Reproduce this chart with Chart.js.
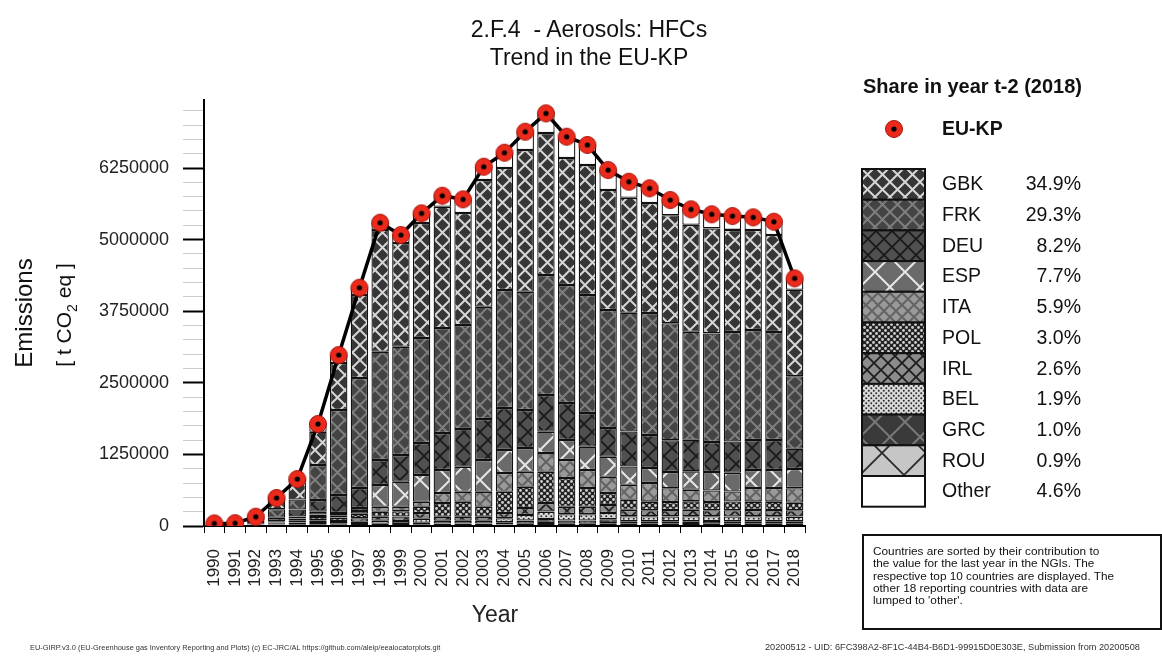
<!DOCTYPE html>
<html>
<head>
<meta charset="utf-8">
<script src="https://cdn.jsdelivr.net/npm/chart.js@4/dist/chart.umd.min.js"></script>
<style>
  body { margin: 0; background: #fff; font-family: "Liberation Sans", Arial, sans-serif; }
  #wrap { position: relative; width: 1162px; height: 660px; overflow: hidden; }
  #c { position: absolute; left: 0; top: 0; }
  .t { position: absolute; white-space: nowrap; color: #111; }
  .rot { transform: translate(-50%, -50%) rotate(-90deg); }
  #note { position: absolute; left: 862px; top: 534px; width: 287px; height: 83px; border: 2px solid #111;
          padding: 9px 0 0 9px; font-size: 11.8px; line-height: 12.3px; color: #111; }
</style>
</head>
<body>
<div id="wrap">
  <canvas id="c" width="1162" height="660"></canvas>
  <div class="t" style="left:389px;width:400px;top:16px;text-align:center;font-size:23px">2.F.4&nbsp; - Aerosols: HFCs</div>
  <div class="t" style="left:389px;width:400px;top:44px;text-align:center;font-size:23px">Trend in the EU-KP</div>
  <div class="t rot" style="left:24px;top:313px;font-size:24px">Emissions</div>
  <div class="t rot" style="left:66px;top:315px;font-size:21px">[ t CO<sub style="font-size:14px">2</sub> eq ]</div>
  <div class="t" style="left:395px;width:200px;top:601px;text-align:center;font-size:23px;color:#222">Year</div>
  <div class="t" style="left:863px;top:75px;font-size:20px;font-weight:bold">Share in year t-2 (2018)</div>
  <canvas id="mk" width="20" height="20" style="position:absolute;left:884px;top:119px"></canvas>
  <div class="t" style="left:942px;top:117px;font-size:19.5px;font-weight:bold">EU-KP</div>
  <canvas id="lg" width="68" height="344" style="position:absolute;left:860px;top:167px"></canvas>
  <div id="lgtext"></div>
  <div id="note">Countries are sorted by their contribution to<br>the value for the last year in the NGIs. The<br>respective top 10 countries are displayed. The<br>other 18 reporting countries with data are<br>lumped to 'other'.</div>
  <div class="t" style="left:30px;top:643px;font-size:7.4px;color:#333">EU-GIRP.v3.0 (EU-Greenhouse gas Inventory Reporting and Plots) (c) EC-JRC/AL https://github.com/aleip/eealocatorplots.git</div>
  <div class="t" style="left:765px;top:642px;font-size:9.2px;color:#333">20200512 - UID: 6FC398A2-8F1C-44B4-B6D1-99915D0E303E, Submission from 20200508</div>
</div>
<script>
// years and values (t CO2 eq)
var years = ['1990','1991','1992','1993','1994','1995','1996','1997','1998','1999','2000','2001','2002','2003','2004',
             '2005','2006','2007','2008','2009','2010','2011','2012','2013','2014','2015','2016','2017','2018'];

var GBK = [16000,18000,60000,180000,297000,581000,820000,1449000,2125000,1810000,2008000,2118000,1955000,2212000,2130000,
           2474000,2479000,2217000,2270000,2095000,2008000,1920000,1885000,1868000,1833000,1781000,1746000,1693000,1509000];
var FRK = [12000,14000,45000,150000,175000,611000,1484000,1920000,1891000,1891000,1833000,1833000,1816000,1961000,2060000,
           2065000,2095000,2060000,2060000,2060000,2072000,2130000,2043000,1885000,1898000,1915000,1920000,1885000,1267000];
var DEU = [6000,6000,20000,60000,122000,204000,314000,349000,436000,466000,559000,646000,658000,716000,733000,
           663000,641000,646000,588000,501000,611000,576000,553000,553000,524000,546000,524000,524000,355000];
var ESP = [2000,2000,6000,20000,35000,50000,40000,50000,379000,436000,466000,402000,436000,553000,402000,
           414000,372000,349000,407000,349000,320000,262000,285000,320000,320000,326000,314000,314000,333000];
var ITA = [2000,2000,5000,15000,30000,40000,40000,50000,87000,80000,87000,175000,175000,262000,326000,
           262000,326000,314000,314000,285000,262000,326000,239000,204000,204000,175000,239000,239000,255000];
var POL = [2000,2000,6000,20000,40000,60000,60000,80000,87000,90000,110000,239000,262000,175000,372000,
           372000,546000,501000,326000,209000,175000,148000,142000,146000,140000,150000,144000,147000,130000];
var IRL = [1000,1000,4000,12000,30000,45000,40000,60000,70000,80000,100000,70000,70000,70000,90000,
           120000,150000,130000,130000,140000,112000,108000,110000,114000,108000,110000,112000,109000,112000];
var BEL = [1000,1000,3000,8000,17000,30000,25000,40000,52000,50000,70000,50000,50000,50000,70000,
           100000,130000,110000,110000,110000,86000,84000,85000,88000,83000,85000,84000,86000,82000];
var GRC = [500,500,2000,4000,8000,14000,12000,20000,26000,22000,35000,25000,25000,25000,40000,
           55000,70000,57000,57000,70000,46000,45000,44000,45000,47000,44000,45000,44000,43000];
var ROU = [500,500,1000,3000,6000,10000,10000,14000,14000,15000,22000,17000,17000,17000,27000,
           39000,51000,40000,40000,47000,38000,40000,39000,37000,39000,38000,40000,39000,39000];
var Other = [2000,3000,10000,17000,60000,136000,140000,128000,127000,140000,169000,191000,239000,232000,267000,
             320000,345000,372000,350000,349000,284000,258000,262000,275000,239000,245000,222000,233000,199000];
var euKP = [45000,50000,162000,489000,820000,1781000,2985000,4160000,5295000,5080000,5459000,5766000,5703000,6273000,6517000,
            6884000,7205000,6796000,6652000,6215000,6011000,5896000,5691000,5529000,5442000,5412000,5389000,5312000,4324000];

// legend order (top to bottom) and shares in 2018
var legendNames = ['GBK','FRK','DEU','ESP','ITA','POL','IRL','BEL','GRC','ROU','Other'];
var shares = ['34.9%','29.3%','8.2%','7.7%','5.9%','3.0%','2.6%','1.9%','1.0%','0.9%','4.6%'];

var series = {GBK:GBK, FRK:FRK, DEU:DEU, ESP:ESP, ITA:ITA, POL:POL, IRL:IRL, BEL:BEL, GRC:GRC, ROU:ROU, Other:Other};

// fill styles: [background, line colour, tile size, line width, kind]
var fills = {
  GBK:  ['#363636', '#d6d6d6', 15, 2, 'x'],
  FRK:  ['#444444', '#7e7e7e', 15, 2, 'x'],
  DEU:  ['#505050', '#1a1a1a', 16, 1.8, 'x'],
  ESP:  ['#6a6a6a', '#e6e6e6', 30, 2, 'x'],
  ITA:  ['#9a9a9a', '#636363', 12, 2, 'x'],
  POL:  ['#222222', '#cfcfcf', 6, 1.4, 'dots'],
  IRL:  ['#8c8c8c', '#1e1e1e', 14, 1.8, 'x'],
  BEL:  ['#dadada', '#2a2a2a', 5, 1, 'dots'],
  GRC:  ['#3a3a3a', '#787878', 30, 2, 'x'],
  ROU:  ['#c6c6c6', '#2a2a2a', 44, 1.8, 'x'],
  Other: null
};

function tile(f) {
  var t = document.createElement('canvas');
  t.width = f[2]; t.height = f[2];
  var g = t.getContext('2d'), s = f[2];
  g.fillStyle = f[0]; g.fillRect(0, 0, s, s);
  g.strokeStyle = f[1]; g.fillStyle = f[1]; g.lineWidth = f[3];
  if (f[4] == 'dots') {
    [[s/4, s/4], [3*s/4, 3*s/4]].forEach(function(p) {
      g.beginPath(); g.arc(p[0], p[1], f[3], 0, 7); g.fill();
    });
  } else {
    g.beginPath();
    g.moveTo(0, 0); g.lineTo(s, s);
    g.moveTo(s, 0); g.lineTo(0, s);
    g.stroke();
  }
  return t;
}

function fillFor(ctx, name) {
  if (!fills[name]) return '#ffffff';
  return ctx.createPattern(tile(fills[name]), 'repeat');
}

// red marker with black centre
function marker() {
  var m = document.createElement('canvas');
  m.width = 20; m.height = 20;
  var g = m.getContext('2d');
  g.beginPath(); g.arc(10, 10, 8.5, 0, 7); g.fillStyle = '#ec2a1c'; g.fill();
  g.lineWidth = 1; g.strokeStyle = '#a8170f'; g.stroke();
  g.beginPath(); g.arc(10, 10, 2.6, 0, 7); g.fillStyle = '#000'; g.fill();
  return m;
}

Chart.defaults.font.family = '"Liberation Sans", Arial, sans-serif';

var ctx = document.getElementById('c').getContext('2d');
var stackOrder = ['ROU','GRC','BEL','IRL','POL','ITA','ESP','DEU','FRK','GBK','Other'];
var datasets = [];
for (var i in stackOrder) {
  var n = stackOrder[i];
  datasets.push({
    label: n,
    data: series[n],
    backgroundColor: fillFor(ctx, n),
    borderColor: '#111',
    borderWidth: 1.3,
    borderSkipped: false,
    barPercentage: 0.84,
    categoryPercentage: 1,
    order: 1
  });
}
datasets.push({
  type: 'line',
  label: 'EU-KP',
  data: euKP,
  borderColor: '#000',
  borderWidth: 3.5,
  pointStyle: marker(),
  pointRadius: 9,
  tension: 0,
  order: 0
});

var chart = new Chart(ctx, {
  type: 'bar',
  data: { labels: years, datasets: datasets },
  options: {
    responsive: false,
    animation: false,
    layout: { padding: { left: 0, right: 357, top: 100, bottom: 29 } },
    plugins: { legend: { display: false }, tooltip: { enabled: false } },
    scales: {
      x: {
        stacked: true,
        offset: true,
        afterFit: function(s) { s.height = 105; },
        border: { color: '#000', width: 2 },
        grid: { drawOnChartArea: false, tickLength: 7, color: '#000' },
        ticks: { minRotation: 90, maxRotation: 90, autoSkip: false, padding: 16, color: '#222', font: { size: 17 } }
      },
      y: {
        stacked: true,
        min: 0,
        max: 7437500,
        afterFit: function(s) { s.width = 204; },
        afterBuildTicks: function(s) {
          var t = [];
          for (var v = 0; v <= s.max; v += 250000) t.push({ value: v });
          s.ticks = t;
        },
        border: { color: '#000', width: 2 },
        grid: {
          drawOnChartArea: false,
          tickLength: 21,
          tickColor: function(c) { return c.tick && c.tick.value % 1250000 === 0 ? '#000' : '#cccccc'; },
          tickWidth: function(c) { return c.tick && c.tick.value % 1250000 === 0 ? 2 : 1; }
        },
        ticks: {
          autoSkip: false,
          padding: 14,
          color: '#222',
          font: { size: 18 },
          callback: function(v) { return v % 1250000 === 0 ? String(v) : ''; }
        }
      }
    }
  }
});

// legend
document.getElementById('mk').getContext('2d').drawImage(marker(), 0, 0);
var lg = document.getElementById('lg').getContext('2d');
var rowH = 30.7, html = '';
for (var j = 0; j < legendNames.length; j++) {
  var y = 2 + j * rowH;
  lg.fillStyle = fillFor(lg, legendNames[j]);
  lg.fillRect(2, y, 63, rowH);
  lg.lineWidth = 2; lg.strokeStyle = '#111';
  lg.strokeRect(2, y, 63, rowH);
  var cy = 167 + y + rowH / 2;
  html += '<div class="t" style="left:942px;top:' + (cy - 12) + 'px;font-size:19.5px">' + legendNames[j] + '</div>';
  html += '<div class="t" style="left:981px;width:100px;text-align:right;top:' + (cy - 12) + 'px;font-size:19.5px">' + shares[j] + '</div>';
}
document.getElementById('lgtext').innerHTML = html;
</script>
</body>
</html>
